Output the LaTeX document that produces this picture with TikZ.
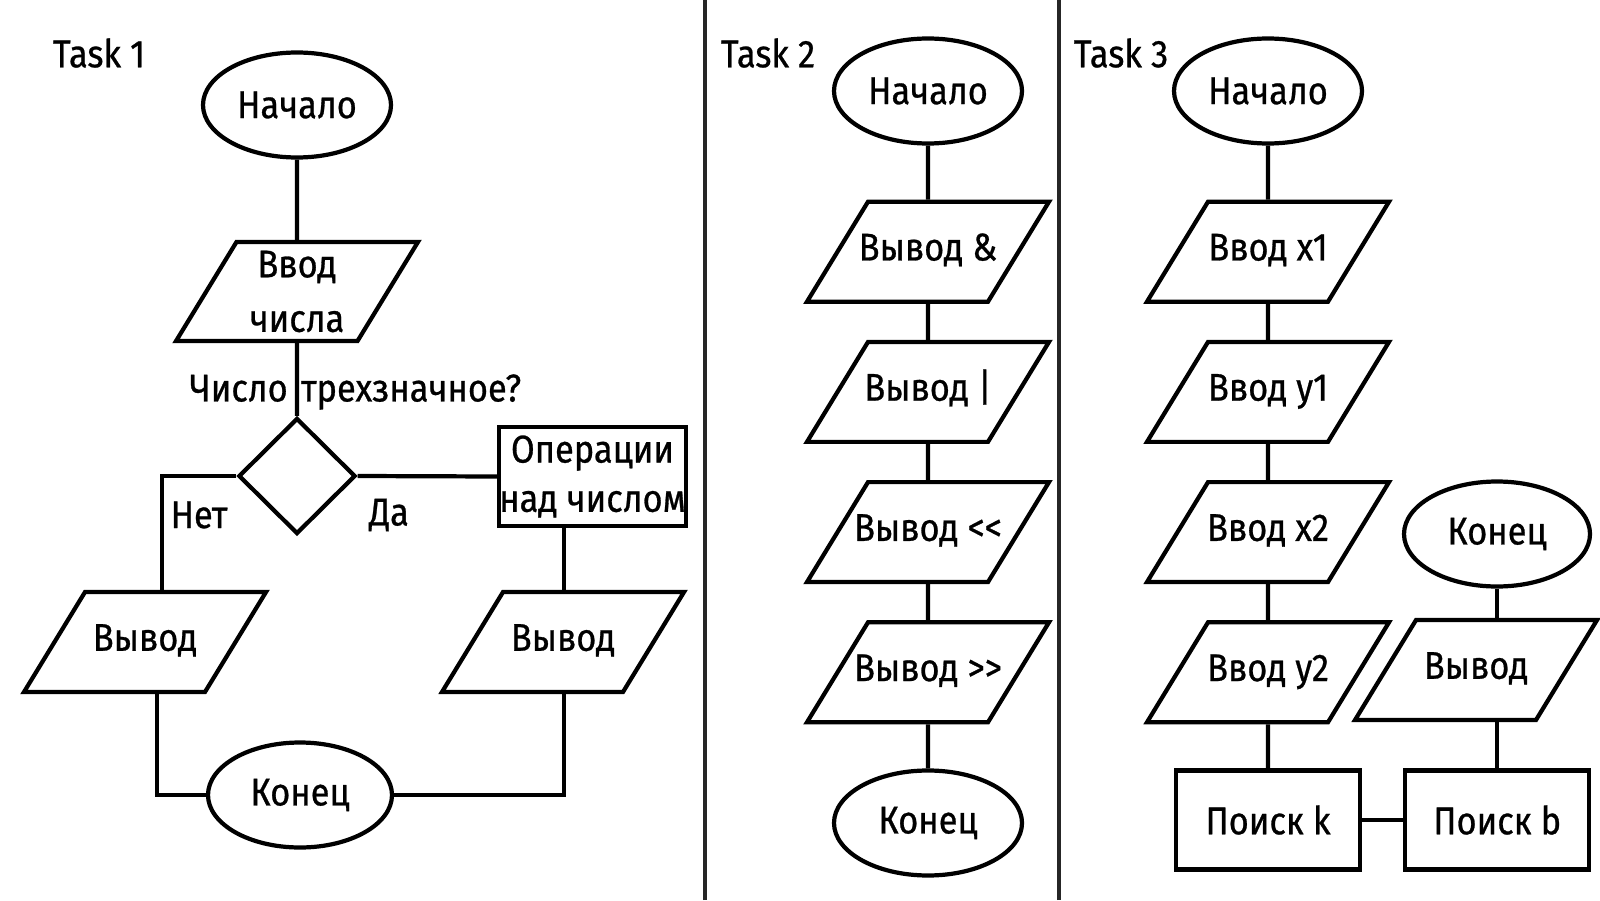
\documentclass[tikz,border=0pt]{standalone}
\usepackage{fontspec}
\setmainfont[FakeStretch=0.89, FakeBold=0.7]{Fira Sans}
\usetikzlibrary{positioning,shapes.geometric}

\begin{document}
\begin{tikzpicture}[
    font=\fontsize{11}{14}\selectfont,
    line/.style={line width=1.2pt},
    term/.style={ellipse, draw, line width=1.2pt, minimum width=1.88cm, minimum height=1.05cm, inner sep=0pt},
    io/.style={trapezium, trapezium left angle=58.6, trapezium right angle=121.4, trapezium stretches body=true, draw, line width=1.2pt, minimum width=2.42cm, text height=8pt, text depth=3pt, inner xsep=-0.25cm, inner ysep=8.72pt, align=center},
    proc/.style={rectangle, draw, line width=1.2pt, minimum width=1.84cm, minimum height=0.99cm, inner sep=0pt, align=center},
    cond/.style={diamond, draw, line width=1.2pt, minimum width=1.17cm, minimum height=1.16cm, inner sep=0pt},
    sep/.style={line width=1.4pt, black!85}
]
\useasboundingbox (0,0) rectangle (16,9);

% Task 1
\node (t1) at (0.99, 8.47) {Task 1};
\node[term] (start1) at (2.97, 7.95) {Начало};
\node[io, text height={}, text depth={}, inner ysep=2.5pt] (in1) at (2.97, 6.085) {Ввод\\[1.5pt]числа};
\node[cond] (dec) at (2.97, 4.24) {};
\node[anchor=west, inner sep=0pt] (q) at (1.89, 5.08) {Число\hspace{1.2pt} трехзначное?};
\node (no) at (1.99, 3.85) {Нет};
\node (yes) at (3.89, 3.85) {Да};
\node[proc, minimum width=1.85cm] (ops) at (5.925, 4.235) {Операции\\над числом};
\node[io] (outL) at (1.45, 2.58) {Вывод};
\node[io] (outR) at (5.63, 2.58) {Вывод};
\node[term, minimum width=1.84cm] (end1) at (3.00, 1.05) {Конец};
\coordinate (noX) at (1.62, 4.24);
\coordinate (noY) at (1.57, 1.05);
\coordinate (yesX) at (5.64, 1.05);

\draw[line] (start1) -- (in1);
\draw[line] (in1) -- (dec);
\draw[line] (dec.west) -- (noX) -- (noX |- outL.north);
\draw[line] (dec.east) -- (ops.west);
\draw[line] (ops.south -| yesX) -- (yesX |- outR.north);
\draw[line] (outL.south -| noY) -- (noY) -- (end1.west);
\draw[line] (outR.south -| yesX) -- (yesX) -- (end1.east);

% separators
\draw[sep] (7.05,0) -- (7.05,9);
\draw[sep] (10.59,0) -- (10.59,9);

% Task 2
\node (t2) at (7.68, 8.47) {Task 2};
\node[term] (start2) at (9.28, 8.09) {Начало};
\node[io, below=0.54cm of start2] (o1) {Вывод \&};
\node[io, below=0.36cm of o1] (o2) {Вывод |};
\node[io, below=0.36cm of o2] (o3) {Вывод <{}<};
\node[io, below=0.36cm of o3] (o4) {Вывод >{}>};
\node[term, below=0.44cm of o4] (end2) {Конец};

\draw[line] (start2) -- (o1) -- (o2) -- (o3) -- (o4) -- (end2);

% Task 3
\node (t3) at (11.21, 8.47) {Task 3};
\node[term] (start3) at (12.68, 8.09) {Начало};
\node[io, below=0.54cm of start3] (x1) {Ввод x1};
\node[io, below=0.36cm of x1] (y1) {Ввод y1};
\node[io, below=0.36cm of y1] (x2) {Ввод x2};
\node[io, below=0.36cm of x2] (y2) {Ввод y2};
\node[proc, below=0.44cm of y2] (findk) {Поиск k};
\node[proc, right=0.41cm of findk] (findb) {Поиск b};
\node[io] (outB) at (14.76, 2.30) {Вывод};
\node[term, minimum width=1.86cm] (end3) at (14.97, 3.66) {Конец};

\draw[line] (start3) -- (x1) -- (y1) -- (x2) -- (y2) -- (findk);
\draw[line] (findk) -- (findb);
\draw[line] (findb) -- (findb |- outB.south);
\draw[line] (end3) -- (end3 |- outB.north);
\end{tikzpicture}
\end{document}
